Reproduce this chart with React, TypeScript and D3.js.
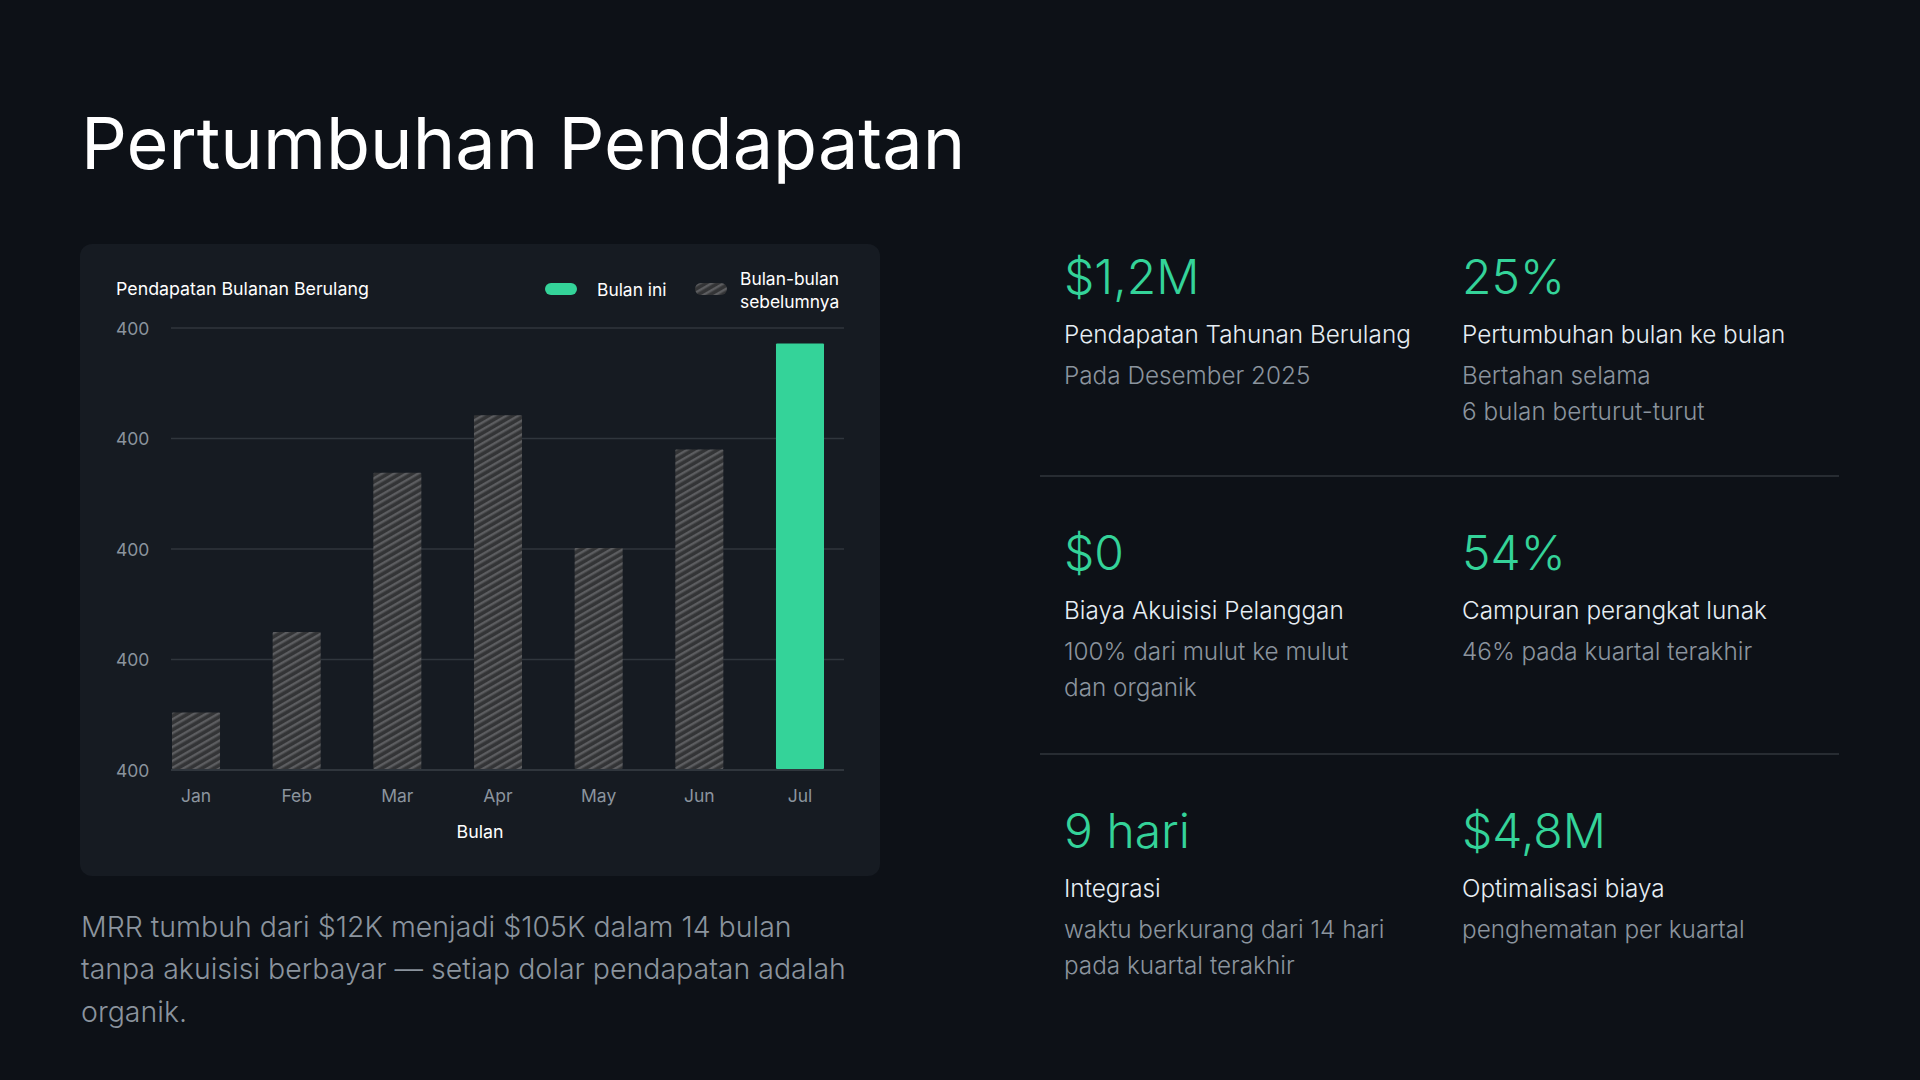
import React, { useEffect } from "react";
import * as d3 from "d3";

const months = ["Jan", "Feb", "Mar", "Apr", "May", "Jun", "Jul"];
const mrrValues = [52, 125, 269, 321, 201, 290, 386];
const currentMonth = "Jul";
const yTicks = [0, 100, 200, 300, 400];
const yTickLabels = ["400", "400", "400", "400", "400"];

const statValues = ["$1,2M", "25%", "$0", "54%", "9 hari", "$4,8M"];
const statLabels = [
  "Pendapatan Tahunan Berulang",
  "Pertumbuhan bulan ke bulan",
  "Biaya Akuisisi Pelanggan",
  "Campuran perangkat lunak",
  "Integrasi",
  "Optimalisasi biaya",
];
const statSubs = [
  ["Pada Desember 2025"],
  ["Bertahan selama", "6 bulan berturut-turut"],
  ["100% dari mulut ke mulut", "dan organik"],
  ["46% pada kuartal terakhir"],
  ["waktu berkurang dari 14 hari", "pada kuartal terakhir"],
  ["penghematan per kuartal"],
];
const paragraphLines = [
  "MRR tumbuh dari $12K menjadi $105K dalam 14 bulan",
  "tanpa akuisisi berbayar — setiap dolar pendapatan adalah",
  "organik.",
];

const FONT = "Inter, 'Noto Sans', sans-serif";
const BG = "#0d1117";
const PANEL = "#161b22";
const GREEN = "#34d399";
const GRID = "#30363d";
const MUTED = "#8b949e";
const TEXT = "#e6edf3";

export default function App() {
  useEffect(() => {
    document.body.style.margin = "0";
    document.body.style.background = BG;
  }, []);

  const x = d3
    .scaleBand<string>()
    .domain(months)
    .range([172, 824])
    .paddingInner(0.523)
    .paddingOuter(0);
  const y = d3.scaleLinear().domain([0, 400]).range([770, 328]);

  const colX = [1064, 1462];
  const rowY = [277, 553, 831];

  return (
    <svg width={1920} height={1080} style={{ display: "block", background: BG }} fontFamily={FONT}>
      <defs>
        <pattern id="hatch" patternUnits="userSpaceOnUse" width={6} height={6} patternTransform="rotate(-30)">
          <rect width={6} height={6} fill="#333436" />
          <rect width={6} height={2.4} fill="#5c5d60" />
        </pattern>
      </defs>
      <rect width={1920} height={1080} fill={BG} />
      <text x={81} y={142} dominantBaseline="central" fontSize={72} fill="#ffffff" fontWeight={400}>
        Pertumbuhan Pendapatan
      </text>

      {/* chart panel */}
      <rect x={80} y={244} width={800} height={632} rx={12} fill={PANEL} />
      <text x={116} y={288} dominantBaseline="central" fontSize={17.8} fill="#ffffff" fontWeight={400}>
        Pendapatan Bulanan Berulang
      </text>
      <rect x={545} y={283} width={32} height={12} rx={6} fill={GREEN} />
      <text x={597} y={289} dominantBaseline="central" fontSize={17.4} fill="#ffffff" fontWeight={400}>
        Bulan ini
      </text>
      <rect x={695} y={283} width={32} height={12} rx={6} fill="url(#hatch)" />
      <text x={740} y={278} dominantBaseline="central" fontSize={17.4} fill="#ffffff" fontWeight={400}>
        Bulan-bulan
      </text>
      <text x={740} y={301} dominantBaseline="central" fontSize={17.4} fill="#ffffff" fontWeight={400}>
        sebelumnya
      </text>

      {yTicks.map((t, i) => (
        <g key={"g" + i}>
          <line x1={171} x2={844} y1={y(t)} y2={y(t)} stroke={GRID} strokeWidth={i === 0 ? 2 : 1.5} />
          <text x={116} y={y(t)} dominantBaseline="central" fontSize={17.5} fill={MUTED}>
            {yTickLabels[i]}
          </text>
        </g>
      ))}

      {months.map((m, i) => (
        <rect
          key={m}
          x={x(m)}
          y={y(mrrValues[i])}
          width={x.bandwidth()}
          height={y(0) - y(mrrValues[i]) - 1}
          rx={1}
          fill={m === currentMonth ? GREEN : "url(#hatch)"}
        />
      ))}
      {months.map((m) => (
        <text
          key={"l" + m}
          x={(x(m) as number) + x.bandwidth() / 2}
          y={795}
          textAnchor="middle"
          dominantBaseline="central"
          fontSize={17.5}
          fill={MUTED}
        >
          {m}
        </text>
      ))}
      <text x={480} y={831} textAnchor="middle" dominantBaseline="central" fontSize={17.8} fill="#ffffff" fontWeight={400}>
        Bulan
      </text>

      {/* paragraph */}
      {paragraphLines.map((l, i) => (
        <text key={"p" + i} x={81} y={926 + i * 42.5} dominantBaseline="central" fontSize={28.5} fontWeight={300} fill={MUTED}>
          {l}
        </text>
      ))}

      {/* stats */}
      {[476, 754].map((yy) => (
        <line key={"d" + yy} x1={1040} x2={1839} y1={yy} y2={yy} stroke={GRID} strokeWidth={1.5} />
      ))}
      {statValues.map((v, i) => {
        const cx = colX[i % 2];
        const cy = rowY[Math.floor(i / 2)];
        return (
          <g key={"s" + i}>
            <text x={cx} y={cy - 1} dominantBaseline="central" fontSize={48} fontWeight={300} fill={GREEN}>
              {v}
            </text>
            <text x={cx} y={cy + 57} dominantBaseline="central" fontSize={24.3} fontWeight={300} fill={TEXT}>
              {statLabels[i]}
            </text>
            {statSubs[i].map((s, j) => (
              <text key={j} x={cx} y={cy + 98 + j * 36} dominantBaseline="central" fontSize={24.3} fontWeight={300} fill={MUTED}>
                {s}
              </text>
            ))}
          </g>
        );
      })}
    </svg>
  );
}
